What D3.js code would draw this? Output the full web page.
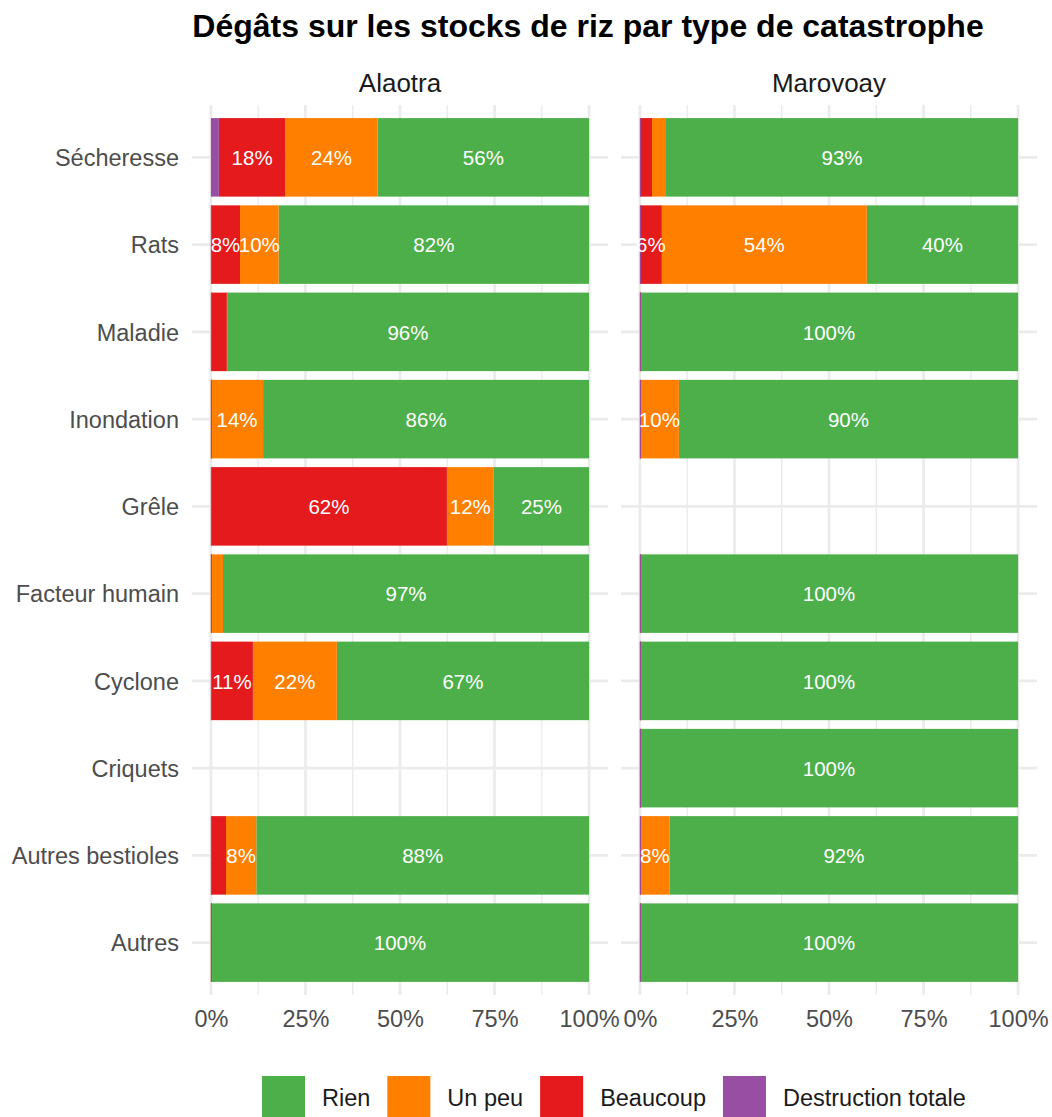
<!DOCTYPE html>
<html>
<head>
<meta charset="utf-8">
<script src="https://cdn.jsdelivr.net/npm/d3@7"></script>
<style>
  html, body { margin: 0; padding: 0; background: #fff; }
  svg { display: block; font-family: "Liberation Sans", Arial, Helvetica, sans-serif; }
</style>
</head>
<body>
<svg id="chart" width="1052" height="1117"></svg>
<script>
// ---------------- data ----------------
const title = "Dégâts sur les stocks de riz par type de catastrophe";
const facets = ["Alaotra", "Marovoay"];
const categories = ["Sécheresse", "Rats", "Maladie", "Inondation", "Grêle",
  "Facteur humain", "Cyclone", "Criquets", "Autres bestioles", "Autres"];
const levels = ["Rien", "Un peu", "Beaucoup", "Destruction totale"];
const levelColors = ["#4daf4a", "#ff7f00", "#e41a1c", "#984ea3"];
const xTicks = [0, 25, 50, 75, 100];
const xTickLabels = ["0%", "25%", "50%", "75%", "100%"];
const xMinorTicks = [12.5, 37.5, 62.5, 87.5];

// Alaotra (percent), null = no data
const rienAlaotra        = [55.9, 82.1, 95.8, 86.2, 25.2, 96.8, 66.7, null, 88.0, 100];
const unPeuAlaotra       = [24.4, 10.2,  0.0, 13.8, 12.4,  3.2, 22.2, null,  8.0,   0];
const beaucoupAlaotra    = [17.6,  7.7,  4.2,  0.0, 62.4,  0.0, 11.1, null,  4.0,   0];
const destructionAlaotra = [ 2.1,  0.0,  0.0,  0.0,  0.0,  0.0,  0.0, null,  0.0,   0];
// Marovoay
const rienMarovoay        = [93.1, 40.0, 100, 89.7, null, 100, 100, 100, 92.1, 100];
const unPeuMarovoay       = [ 3.7, 54.2,   0, 10.3, null,   0,   0,   0,  7.9,   0];
const beaucoupMarovoay    = [ 3.2,  5.8,   0,  0.0, null,   0,   0,   0,  0.0,   0];
const destructionMarovoay = [ 0.0,  0.0,   0,  0.0, null,   0,   0,   0,  0.0,   0];

const facetData = {
  "Alaotra":  [rienAlaotra, unPeuAlaotra, beaucoupAlaotra, destructionAlaotra],
  "Marovoay": [rienMarovoay, unPeuMarovoay, beaucoupMarovoay, destructionMarovoay]
};

// ---------------- layout ----------------
const svg = d3.select("#chart");
const font = "'Liberation Sans', Arial, Helvetica, sans-serif";
const panelTop = 105, panelBottom = 995;
const panels = [{ name: "Alaotra", left: 192, right: 608 }, { name: "Marovoay", left: 621, right: 1037 }];
const gridColor = "#ebebeb";

const y = d3.scaleBand().domain(categories).range([panelTop, panelBottom])
  .paddingInner(0.1).paddingOuter(0.15);

// title
svg.append("text").attr("x", 588).attr("y", 37).attr("text-anchor", "middle")
  .attr("font-size", 32).attr("font-weight", "bold").attr("fill", "#000").text(title);

// y axis labels
const yAxis = d3.axisLeft(y).tickSize(0).tickPadding(13);
const yg = svg.append("g").attr("transform", `translate(${panels[0].left},0)`).call(yAxis);
yg.select(".domain").remove();
yg.selectAll("text").attr("font-size", 23.5).attr("fill", "#4d4d4d").attr("font-family", font)
  .attr("dy", "0.37em");

panels.forEach(p => {
  const x = d3.scaleLinear().domain([-5, 105]).range([p.left, p.right]);
  const g = svg.append("g");

  // grid: minor vertical
  g.selectAll(".minor").data(xMinorTicks).join("line")
    .attr("x1", d => x(d)).attr("x2", d => x(d))
    .attr("y1", panelTop).attr("y2", panelBottom)
    .attr("stroke", gridColor).attr("stroke-width", 1.4);
  // grid: major vertical
  g.selectAll(".major").data(xTicks).join("line")
    .attr("x1", d => x(d)).attr("x2", d => x(d))
    .attr("y1", panelTop).attr("y2", panelBottom)
    .attr("stroke", gridColor).attr("stroke-width", 2.7);
  // grid: horizontal
  g.selectAll(".hgrid").data(categories).join("line")
    .attr("x1", p.left).attr("x2", p.right)
    .attr("y1", d => y(d) + y.bandwidth() / 2).attr("y2", d => y(d) + y.bandwidth() / 2)
    .attr("stroke", gridColor).attr("stroke-width", 2.7);

  // stacked segments: stacking order from left = destruction, beaucoup, un peu, rien
  const series = facetData[p.name];
  const segs = [];
  categories.forEach((c, i) => {
    if (series[0][i] === null) return;
    let cum = 0;
    const stackOrder = [3, 2, 1, 0];
    const pos = {};
    stackOrder.forEach(li => {
      const v = series[li][i];
      pos[li] = { x0: cum, x1: cum + v, v };
      cum += v;
    });
    // drawing order as ggplot: Rien, Un peu, Beaucoup, Destruction
    [0, 1, 2, 3].forEach(li => segs.push({ cat: c, li, ...pos[li] }));
  });

  g.selectAll(".seg").data(segs).join("rect")
    .attr("x", d => x(d.x0))
    .attr("width", d => Math.max(x(d.x1) - x(d.x0), 1))
    .attr("y", d => y(d.cat)).attr("height", y.bandwidth())
    .attr("fill", d => levelColors[d.li]);

  g.selectAll(".lab").data(segs.filter(d => d.v >= 5)).join("text")
    .attr("x", d => x((d.x0 + d.x1) / 2))
    .attr("y", d => y(d.cat) + y.bandwidth() / 2)
    .attr("dy", "0.38em").attr("text-anchor", "middle")
    .attr("font-size", 20.5).attr("fill", "#fff")
    .text(d => Math.round(d.v) + "%");

  // x axis
  const xAxis = d3.axisBottom(x).tickValues(xTicks).tickSize(0).tickPadding(0)
    .tickFormat((d, i) => xTickLabels[i]);
  const xg = svg.append("g").attr("transform", `translate(0,${panelBottom})`).call(xAxis);
  xg.select(".domain").remove();
  xg.selectAll("text").attr("font-size", 23.5).attr("fill", "#4d4d4d")
    .attr("font-family", font).attr("dy", null).attr("y", 32);

  // strip
  svg.append("text").attr("x", (p.left + p.right) / 2).attr("y", 92)
    .attr("text-anchor", "middle").attr("font-size", 26).attr("fill", "#1a1a1a").text(p.name);
});

// legend
const lg = svg.append("g");
let lx = 262;
const keyTop = 1076, keySize = 43;
levels.forEach((lv, i) => {
  lg.append("rect").attr("x", lx).attr("y", keyTop).attr("width", keySize).attr("height", keySize)
    .attr("fill", levelColors[i]);
  const t = lg.append("text").attr("x", lx + keySize + 17).attr("y", keyTop + 21.5).attr("dy", "0.36em")
    .attr("font-size", 23.5).attr("fill", "#1a1a1a").text(lv);
  lx += keySize + 17 + t.node().getComputedTextLength() + 17;
});
</script>
</body>
</html>
